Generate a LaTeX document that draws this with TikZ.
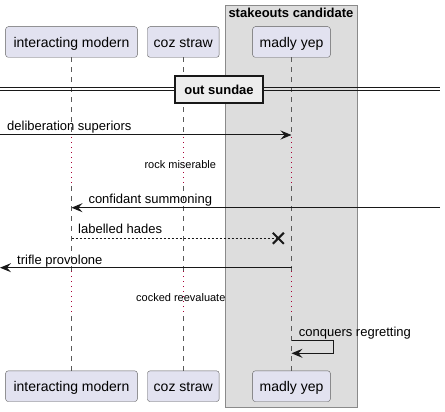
\documentclass[tikz,border=0pt]{standalone}
\usepackage{fontspec}
\setmainfont{Liberation Sans}
\usetikzlibrary{arrows.meta,calc}
\definecolor{partfill}{HTML}{E2E2F0}
\definecolor{partline}{HTML}{5E5E5E}
\definecolor{groupfill}{HTML}{DDDDDD}
\definecolor{groupline}{HTML}{8A8A8A}
\definecolor{lifegray}{HTML}{5A5A5A}
\definecolor{delayred}{HTML}{A80036}
\definecolor{inkblack}{HTML}{181818}
\begin{document}
\begin{tikzpicture}[x=1pt,y=-1pt]
\tikzstyle{partbox}=[draw=partline,fill=partfill,rounded corners=2.5pt,minimum height=30.6pt,text height=12pt,text depth=1pt,inner sep=0pt,font=\fontsize{14}{16}\selectfont];
\tikzstyle{lifeline}=[lifegray,line width=1pt,dash pattern=on 5pt off 5pt];
\tikzstyle{delayline}=[delayred,line width=1pt,dash pattern=on 1pt off 4pt];
\tikzstyle{msg}=[inkblack,line width=1pt,-{Stealth[length=11pt,width=9pt,inset=4pt]}];
\tikzstyle{msglabel}=[anchor=base west,inner sep=0pt,font=\fontsize{13}{15}\selectfont];
\tikzstyle{delaylabel}=[anchor=base,inner sep=0pt,font=\fontsize{11}{13}\selectfont];
\useasboundingbox (0,0) rectangle (445,412);

% group box
\draw[groupline,fill=groupfill,line width=1pt] (225.7,6) rectangle (357.3,407);
\node[anchor=base,inner sep=0pt,font=\fontsize{13}{15}\selectfont\bfseries] (groupTitle) at (291,18) {stakeouts candidate};

% participants, top and bottom
\node[partbox,minimum width=131.7pt] (imTop) at (71.5,42) {interacting modern};
\node[partbox,minimum width=71.7pt] (csTop) at (183.3,42) {coz straw};
\node[partbox,minimum width=77.7pt] (myTop) at (291.5,42) {madly yep};
\node[partbox,minimum width=131.7pt] (imBot) at (71.5,386.2) {interacting modern};
\node[partbox,minimum width=71.7pt] (csBot) at (183.3,386.2) {coz straw};
\node[partbox,minimum width=77.7pt] (myBot) at (291.5,386.2) {madly yep};

% lifelines, dotted where the delays are
\def\delayAtop{137}
\def\delayAbot{186}
\def\delayBtop{271}
\def\delayBbot{316}
\foreach \p in {im,cs,my}{
  \draw[lifeline] (\p Top.south) -- (\p Top.south |- 0,\delayAtop);
  \draw[delayline] (\p Top.south |- 0,\delayAtop) -- (\p Top.south |- 0,\delayAbot);
  \draw[lifeline] (\p Top.south |- 0,\delayAbot) -- (\p Top.south |- 0,\delayBtop);
  \draw[delayline] (\p Top.south |- 0,\delayBtop) -- (\p Top.south |- 0,\delayBbot);
  \draw[lifeline] (\p Top.south |- 0,\delayBbot) -- (\p Bot.north);
}

% divider
\def\rightend{440}
\draw[inkblack,line width=1pt] (0,88) -- (\rightend,88);
\draw[inkblack,line width=1pt] (0,91) -- (\rightend,91);
\node[draw=inkblack,line width=2pt,fill=white!93!black,minimum width=88.6pt,minimum height=26.3pt,text height=11pt,text depth=0pt,inner sep=0pt,font=\fontsize{13}{15}\selectfont\bfseries] (divider) at (219,89.5) {out sundae};

% messages
\coordinate (inLeft) at (0,135);
\coordinate (myA) at (myTop.south |- 0,135);
\draw[msg] (inLeft) -- (myA);
\node[msglabel] (labA) at (7,131) {deliberation superiors};

\node[delaylabel] (delayA) at (180.3,168.7) {rock miserable};

\coordinate (inRight) at (\rightend,207.7);
\coordinate (imB) at (imTop.south |- 0,207.7);
\draw[msg] (inRight) -- (imB);
\node[msglabel] (labB) at (88.3,204) {confidant summoning};

\coordinate (imC) at (imTop.south |- 0,238.3);
\coordinate (lostC) at (278.3,238.3);
\draw[inkblack,line width=1pt,dash pattern=on 2pt off 2pt] (imC) -- (lostC);
\draw[inkblack,line width=2pt] ($(lostC)+(-5.5,-5.5)$) -- ($(lostC)+(5.5,5.5)$);
\draw[inkblack,line width=2pt] ($(lostC)+(-5.5,5.5)$) -- ($(lostC)+(5.5,-5.5)$);
\node[msglabel] (labC) at (78,233) {labelled hades};

\coordinate (myD) at (myTop.south |- 0,267.7);
\coordinate (outLeft) at (0,267.7);
\draw[msg] (myD) -- (outLeft);
\node[msglabel] (labD) at (17,264) {trifle provolone};

\node[delaylabel] (delayB) at (180.8,301.7) {cocked reevaluate};

\coordinate (myE) at (myTop.south |- 0,340.3);
\coordinate (myF) at (myTop.south |- 0,353.3);
\draw[msg] (myE) -- ++(42,0) |- (myF);
\node[msglabel] (labE) at (298.7,336) {conquers regretting};

\end{tikzpicture}
\end{document}
